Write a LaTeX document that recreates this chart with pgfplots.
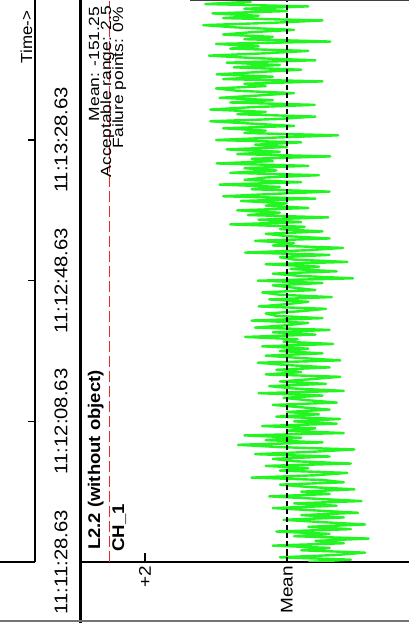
\documentclass[border=0pt]{standalone}
\usepackage{pgfplots}
\pgfplotsset{compat=1.18}
\usepackage{pgfplotstable}
\usepackage{fontspec}
\setmainfont{Liberation Sans}
\definecolor{sig}{RGB}{35,245,35}
\definecolor{acc}{RGB}{235,40,40}
\newcommand{\fs}[2]{\fontsize{#1}{#2}\selectfont}

\pgfplotstableread{
t d
0 -0.3
1 -0.9
2 0.1
3 -0.7
4 -1.1
5 -0.2
6 -0.6
7 0.2
8 -0.8
9 -0.4
10 -1.15
11 -0.1
12 -0.6
13 0.15
14 -0.9
15 -0.3
16 -1.1
17 -0.5
18 0.05
19 -0.8
20 -0.2
21 -1.0
22 -0.4
23 0.2
24 -0.7
25 -0.1
26 -1.05
27 -0.4
28 0.25
29 -0.6
30 -0.2
31 -0.95
32 -0.3
33 0.1
34 -0.8
35 -0.5
36 0.5
37 -0.4
38 -0.85
39 0.1
40 -0.3
41 0.3
42 -0.9
43 -0.1
44 0.2
45 -0.6
46 0.45
47 -0.35
48 -0.95
49 0.1
50 0.69
51 -0.5
52 0.3
53 -0.2
54 0.6
55 -0.8
56 0.0
57 -0.4
58 0.35
59 -0.7
60 -0.1
61 -0.75
62 0.15
63 -0.45
64 0.0
65 -0.6
66 -0.2
67 0.2
68 -0.7
69 -0.3
70 0.05
71 -0.5
72 0.4
73 -0.8
74 -0.1
75 0.25
76 -0.55
77 0.1
78 -0.35
79 -0.75
80 0.3
81 -0.2
82 0.15
83 -0.6
84 0.0
85 0.41
86 -0.75
87 -0.2
88 0.3
89 -0.5
90 0.1
91 -0.3
92 0.35
93 -0.65
94 0.05
95 -0.15
96 0.59
97 -0.4
98 0.2
99 -0.6
100 0.45
101 0.0
102 -0.3
103 0.5
104 -0.5
105 0.15
106 0.3
107 -0.2
108 -0.55
109 0.4
110 0.0
111 -0.3
112 0.25
113 -0.63
114 0.1
115 0.35
116 -0.4
117 -0.1
118 0.2
119 -0.5
120 0.41
121 -0.93
122 -0.2
123 0.2
124 -0.7
125 -0.05
126 -0.45
127 0.3
128 -0.85
129 -0.1
130 0.1
131 -0.6
132 0.59
133 -0.3
134 -0.79
135 0.2
136 -0.1
137 0.45
138 -0.6
139 0.0
140 0.3
141 -0.5
142 0.1
143 -0.25
144 0.8
145 -0.2
146 0.4
147 -0.58
148 0.55
149 0.1
150 0.7
151 -0.3
152 0.3
153 0.0
154 0.65
155 -0.4
156 0.9
157 0.2
158 -0.6
159 0.5
160 0.1
161 0.95
162 -0.2
163 0.6
164 0.3
165 -0.45
166 0.8
167 0.15
168 0.6
169 -0.3
170 0.99
171 0.2
172 0.5
173 -0.61
174 0.7
175 0.1
176 0.85
177 0.0
178 0.45
179 -0.2
180 1.0
181 0.2
182 -0.72
183 0.6
184 0.3
185 0.9
186 -0.1
187 0.5
188 1.08
189 0.1
190 -0.4
191 0.7
192 0.3
193 1.08
194 0.5
195 -0.39
196 0.8
197 0.2
198 0.95
199 0.4
200 -0.1
201 0.7
202 1.0
203 0.3
204 0.6
205 -0.5
206 0.9
207 0.2
208 0.99
209 0.4
210 -0.2
211 0.75
212 0.1
213 0.85
214 -0.4
215 0.5
216 1.1
217 0.3
218 -0.3
219 0.8
220 0.4
221 1.0
222 -0.61
223 0.6
224 0.2
225 0.9
226 0.5
227 -0.1
228 0.7
229 1.18
230 0.2
231 -0.5
232 0.9
233 0.4
234 1.05
235 0.0
236 0.6
237 -0.3
238 1.15
239 0.5
}\sigdata

\begin{document}
\begin{tikzpicture}
\useasboundingbox (0,0) rectangle (409bp,623bp);
% time axis
\begin{axis}[
  at={(0bp,61bp)}, anchor=south west,
  scale only axis, width=35bp, height=561bp,
  xmin=0, xmax=1, ymin=0, ymax=239.3,
  axis x line*=bottom, axis y line*=right,
  axis line style={line width=1.3bp, black},
  xtick=\empty,
  ytick={0,60,120,180},
  yticklabels={11:11:28.63,11:12:08.63,11:12:48.63,11:13:28.63},
  ytick align=inside, major tick length=7bp,
  tick style={line width=1.5bp, black},
  yticklabel style={rotate=90, anchor=north, xscale=1.1, font=\fs{18.5}{20}},
  yticklabel shift=16bp,
]
\end{axis}
% main axis
\begin{axis}[
  at={(80.5bp,61bp)}, anchor=south west,
  scale only axis, width=328.5bp, height=561bp,
  xmin=-1.718, xmax=2.908, x dir=reverse,
  ymin=0, ymax=239.3,
  axis x line*=bottom, axis y line=none,
  axis line style={line width=1.5bp, black},
  xtick={0,2}, xticklabels={Mean,+2},
  xtick align=inside, major tick length=9bp,
  tick style={line width=1.5bp, black},
  xticklabel style={rotate=90, anchor=east, xscale=1.12, font=\fs{17}{19}},
  clip=true,
]
\addplot[sig, line width=2.4bp, line join=round] table[x=d, y=t] {\sigdata};
\addplot[acc, line width=1.1bp, dash pattern=on 11bp off 4bp] coordinates {(2.5,0) (2.5,239.3)};
\addplot[black, line width=1.6bp, dash pattern=on 5bp off 3bp] coordinates {(0,0) (0,239.3)};
\end{axis}
% frame lines
\draw[line width=3bp, black] (80.5bp,0bp) -- (80.5bp,623bp);
\draw[line width=1.5bp, black!55] (0bp,2bp) -- (409bp,2bp);
\draw[line width=1bp, black!75] (190bp,622.5bp) -- (409bp,622.5bp);
\draw[line width=1.3bp, black] (35bp,622bp) -- (35bp,623bp);
% texts
\node[rotate=90, xscale=1.06, anchor=base, inner sep=0pt, font=\fs{16}{18}] at (32bp,586bp) {Time->};
\node[rotate=90, xscale=1.09, anchor=base west, inner sep=0pt, font=\fs{17}{19}\bfseries] at (100bp,73bp) {L2.2 (without object)};
\node[rotate=90, xscale=1.1, anchor=base west, inner sep=0pt, font=\fs{17}{19}\bfseries] at (124bp,71bp) {CH\_1};
\node[rotate=90, xscale=1.18, anchor=base east, inner sep=0pt, font=\fs{14.8}{16}] at (99bp,616bp) {Mean: -151.25};
\node[rotate=90, xscale=1.18, anchor=base east, inner sep=0pt, font=\fs{14.8}{16}] at (111bp,617bp) {Acceptable range: 2.5};
\node[rotate=90, xscale=1.18, anchor=base east, inner sep=0pt, font=\fs{14.8}{16}] at (123bp,616bp) {Failure points: 0\%};
\end{tikzpicture}
\end{document}
